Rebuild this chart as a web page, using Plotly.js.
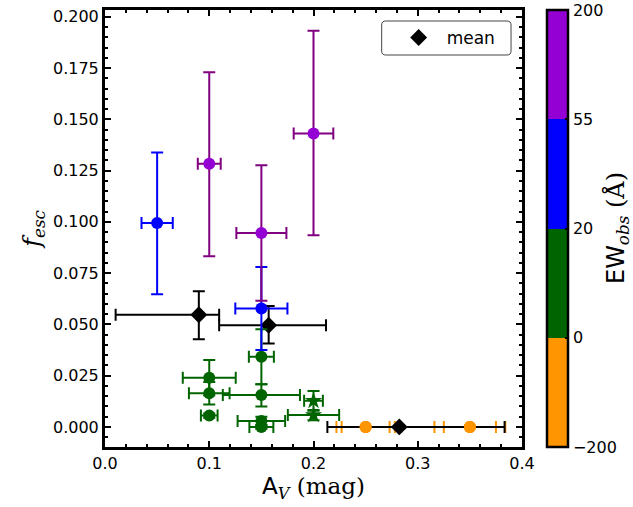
<!DOCTYPE html>
<html>
<head>
<meta charset="utf-8">
<script src="https://cdn.plot.ly/plotly-3.0.1.min.js"></script>
<style>html,body{margin:0;padding:0;background:#fff;}#chart{width:633px;height:507px;}</style>
</head>
<body>
<div id="chart"></div>
<script>
// ---- data ----
// purple group (EW 55..200)
const purpleX = [0.10, 0.15, 0.20];
const purpleY = [0.1283, 0.0946, 0.1431];
const purpleYerrPlus = [0.0446, 0.0330, 0.0501];
const purpleYerrMinus = [0.0451, 0.0331, 0.0497];
const purpleXerr = [0.011, 0.024, 0.019];
// blue group (EW 20..55)
const blueX = [0.05, 0.15];
const blueY = [0.0994, 0.0577];
const blueYerrPlus = [0.0344, 0.0203];
const blueYerrMinus = [0.0347, 0.0202];
const blueXerr = [0.015, 0.025];
// green group (EW 0..20), circles
const greenX = [0.10, 0.10, 0.10, 0.15, 0.15, 0.15, 0.15];
const greenY = [0.0240, 0.0164, 0.0055, 0.0342, 0.0156, 0.0029, 0.0000];
const greenYerrPlus = [0.0086, 0.0055, 0.0010, 0.0134, 0.0052, 0.0020, 0.0010];
const greenYerrMinus = [0.0086, 0.0055, 0.0010, 0.0134, 0.0057, 0.0020, 0.0010];
const greenXerr = [0.0254, 0.0195, 0.0080, 0.0120, 0.0370, 0.0228, 0.0115];
// green group, stars
const starX = [0.20, 0.20];
const starY = [0.0127, 0.0058];
const starYerr = [0.0048, 0.0025];
const starXerr = [0.0090, 0.0246];
// orange group (EW -200..0)
const orangeX = [0.25, 0.25, 0.35, 0.35];
const orangeY = [0.0, 0.0, 0.0, 0.0];
const orangeXerr = [0.028, 0.023, 0.034, 0.025];
// means
const meanX = [0.090, 0.157, 0.2823];
const meanY = [0.0547, 0.0496, 0.0];
const meanXerrPlus = [0.0195, 0.055, 0.101];
const meanXerrMinus = [0.0798, 0.0475, 0.069];
const meanYerrPlus = [0.0115, 0.0093, 0.0];
const meanYerrMinus = [0.0119, 0.0089, 0.0];
// colorbar
const cbTickVals = [0, 1, 2, 3, 4];
const cbTickText = ['\u2212200', '0', '20', '55', '200'];

const C_ORANGE = '#FF9500', C_GREEN = '#006400', C_BLUE = '#0000FF', C_PURPLE = '#9400D3', C_PURPLE_ERR = '#800080';
const SERIF = 'DejaVu Serif';

function errX(sym, plus, minus, color) {
  if (minus) return {type:'data', symmetric:false, array:plus, arrayminus:minus, color:color, thickness:2, width:6};
  return {type:'data', array:sym, color:color, thickness:2, width:6};
}

const traces = [
  {x: orangeX, y: orangeY, mode:'markers', type:'scatter', showlegend:false, hoverinfo:'skip',
   marker:{color:C_ORANGE, size:12, symbol:'circle'},
   error_x: errX(orangeXerr, null, null, C_ORANGE)},
  {x: meanX, y: meanY, mode:'markers', type:'scatter', name:'mean', showlegend:true,
   marker:{color:'#000', size:13, symbol:'diamond'},
   error_x: errX(null, meanXerrPlus, meanXerrMinus, '#000'),
   error_y: errX(null, meanYerrPlus, meanYerrMinus, '#000')},
  {x: orangeX, y: orangeY, mode:'markers', type:'scatter', showlegend:false, hoverinfo:'skip',
   marker:{color:C_ORANGE, size:12, symbol:'circle'}},
  {x: greenX, y: greenY, mode:'markers', type:'scatter', showlegend:false,
   marker:{color:C_GREEN, size:12, symbol:'circle'},
   error_x: errX(greenXerr, null, null, C_GREEN),
   error_y: errX(null, greenYerrPlus, greenYerrMinus, C_GREEN)},
  {x: starX, y: starY, mode:'markers', type:'scatter', showlegend:false,
   marker:{color:C_GREEN, size:13, symbol:'star'},
   error_x: errX(starXerr, null, null, C_GREEN),
   error_y: errX(starYerr, null, null, C_GREEN)},
  {x: blueX, y: blueY, mode:'markers', type:'scatter', showlegend:false,
   marker:{color:C_BLUE, size:12, symbol:'circle'},
   error_x: errX(blueXerr, null, null, C_BLUE),
   error_y: errX(null, blueYerrPlus, blueYerrMinus, C_BLUE)},
  {x: purpleX, y: purpleY, mode:'markers', type:'scatter', showlegend:false,
   marker:{color:C_PURPLE, size:12, symbol:'circle'},
   error_x: errX(purpleXerr, null, null, C_PURPLE_ERR),
   error_y: errX(null, purpleYerrPlus, purpleYerrMinus, C_PURPLE_ERR)},
  // colorbar carrier (points placed outside the visible range)
  {x: [-1, -1], y: [-1, -1], mode:'markers', type:'scatter', showlegend:false, hoverinfo:'skip',
   marker:{size:1, color:[0, 4], cmin:0, cmax:4,
     colorscale:[[0,C_ORANGE],[0.25,C_ORANGE],[0.25,C_GREEN],[0.5,C_GREEN],[0.5,C_BLUE],[0.75,C_BLUE],[0.75,C_PURPLE],[1,C_PURPLE]],
     showscale:true,
     colorbar:{x:1.0597, xanchor:'left', xref:'paper', y:0.5, yanchor:'middle', len:437, lenmode:'pixels',
       thickness:21, outlinewidth:2.5, outlinecolor:'#000', xpad:0, ypad:0,
       tickmode:'array', tickvals:cbTickVals, ticktext:cbTickText, ticks:'inside', ticklen:4, tickwidth:2, tickcolor:'#000',
       tickfont:{family:'DejaVu Sans', size:16, color:'#000'}}}}
];

const axisCommon = {
  showgrid:false, zeroline:false, showline:true, linewidth:3, linecolor:'#000', mirror:'allticks',
  ticks:'inside', ticklen:6, tickwidth:2, tickcolor:'#000',
  tickfont:{family:'DejaVu Sans', size:16, color:'#000'}
};

const layout = {
  width:633, height:507,
  margin:{l:105, r:109, t:10, b:60},
  paper_bgcolor:'#fff', plot_bgcolor:'#fff',
  font:{family:'DejaVu Sans', color:'#000'},
  xaxis: Object.assign({}, axisCommon, {
    range:[0, 0.4], tickvals:[0,0.1,0.2,0.3,0.4], ticktext:['0.0','0.1','0.2','0.3','0.4'],
    minor:{dtick:0.02, tick0:0, ticks:'inside', ticklen:3, tickwidth:2, tickcolor:'#000'},
    title:{text:'A<sub><i style="font-family:DejaVu Serif">V</i></sub> <span style="font-family:DejaVu Serif">(mag)</span>',
      font:{family:'DejaVu Sans', size:23, color:'#000'}, standoff:4}
  }),
  yaxis: Object.assign({}, axisCommon, {
    range:[-0.0098, 0.2033], tickvals:[0,0.025,0.05,0.075,0.1,0.125,0.15,0.175,0.2],
    ticktext:['0.000','0.025','0.050','0.075','0.100','0.125','0.150','0.175','0.200'],
    minor:{dtick:0.005, tick0:0, ticks:'inside', ticklen:3, tickwidth:2, tickcolor:'#000'},
    title:{text:'<i>f</i><sub><i>esc</i></sub>', font:{family:SERIF, size:24, color:'#000'}, standoff:6}
  }),
  legend:{x:0.685, xanchor:'left', y:0.936, yanchor:'middle', bgcolor:'rgba(0,0,0,0)', borderwidth:0,
    itemwidth:46, font:{family:'DejaVu Sans', size:17, color:'#000'}},
  showlegend:true,
  shapes:[
    {type:'path', xref:'paper', yref:'paper',
     path:'M0.673,0.8970 L0.964,0.8970 Q0.9737,0.8970 0.9737,0.9062 L0.9737,0.9656 Q0.9737,0.9748 0.964,0.9748 L0.673,0.9748 Q0.6635,0.9748 0.6635,0.9656 L0.6635,0.9062 Q0.6635,0.8970 0.673,0.8970 Z',
     line:{color:'#444', width:1}, fillcolor:'rgba(255,255,255,0.8)', layer:'above'}
  ],
  annotations:[
    {xref:'paper', yref:'paper', x:1.2267, y:0.5, xanchor:'center', yanchor:'middle', textangle:-90, showarrow:false,
     text:'EW<sub><i style="font-family:DejaVu Serif">obs</i></sub> <span style="font-family:DejaVu Serif">(\u00C5)</span>',
     font:{family:'DejaVu Sans', size:24, color:'#000'}}
  ]
};

Plotly.newPlot('chart', traces, layout, {displayModeBar:false, staticPlot:true});
</script>
</body>
</html>
